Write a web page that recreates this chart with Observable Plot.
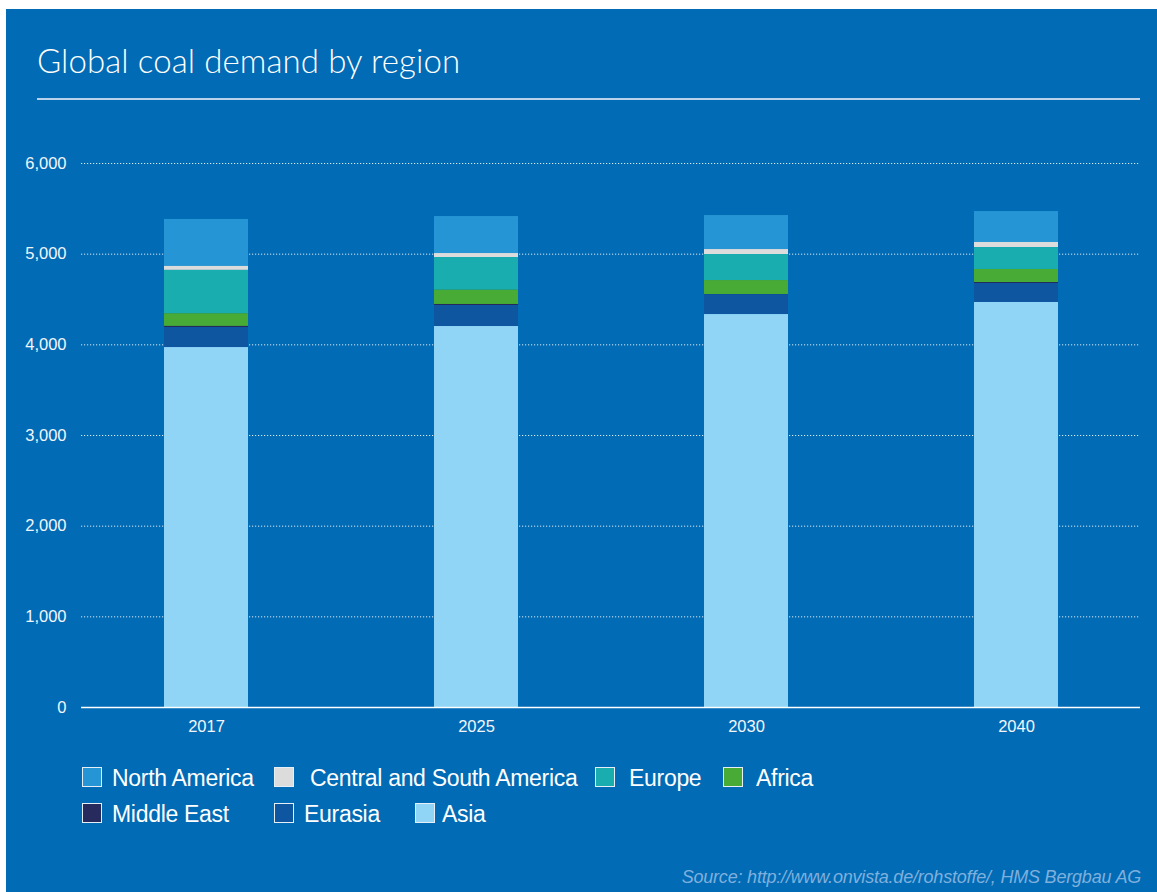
<!DOCTYPE html>
<html>
<head>
<meta charset="utf-8">
<script src="https://cdn.jsdelivr.net/npm/d3@7"></script>
<script src="https://cdn.jsdelivr.net/npm/@observablehq/plot@0.6"></script>
<style>
  html, body { margin: 0; padding: 0; background: #ffffff; width: 1157px; height: 892px; overflow: hidden; }
  #panel { position: absolute; left: 6px; top: 9px; width: 1151px; height: 883px; background: #016bb5; }
  #title { position: absolute; left: 37px; top: 40px; font-family: Lato, "Open Sans", sans-serif; font-weight: 300; font-size: 33px; letter-spacing: 0.1px; color: #ffffff; white-space: nowrap; line-height: 40px; }
  #rule { position: absolute; left: 37px; top: 98px; width: 1103px; height: 2px; background: #b9d2ec; }
  #chart { position: absolute; left: 0; top: 0; }
  .lg { position: absolute; font-family: "Liberation Sans", Arial, sans-serif; font-size: 23px; letter-spacing: -0.3px; color: #ffffff; white-space: nowrap; line-height: 24px; }
  .sw { position: absolute; width: 20px; height: 20px; border: 1.5px solid #e6eef7; box-sizing: border-box; }
  #caption { position: absolute; right: 16px; top: 867px; font-family: "Liberation Sans", Arial, sans-serif; font-style: italic; font-size: 18px; letter-spacing: -0.2px; color: #7fb0dd; white-space: nowrap; }
</style>
</head>
<body>
<div id="panel"></div>
<div id="title">Global coal demand by region</div>
<div id="rule"></div>
<div id="chart"></div>
<div id="legend"></div>
<div id="caption">Source: http://www.onvista.de/rohstoffe/, HMS Bergbau AG</div>
<script>
// ---- data ----
const years = ["2017", "2025", "2030", "2040"];
const northAmerica        = [518, 408, 375, 341];
const centralSouthAmerica = [44, 44, 55, 56];
const europe              = [478, 360, 287, 242];
const africa              = [140, 158, 154, 144];
const middleEast          = [12, 11, 5, 11];
const eurasia             = [221, 232, 216, 209];
const asia                = [3970, 4202, 4334, 4467];
const regions = ["North America", "Central and South America", "Europe", "Africa", "Middle East", "Eurasia", "Asia"];
const regionColors = ["#2595d5", "#dcdcdc", "#19adb0", "#47ab35", "#262a5c", "#0f56a0", "#90d4f6"];
const yTicks = [0, 1000, 2000, 3000, 4000, 5000, 6000];

const seriesValues = [northAmerica, centralSouthAmerica, europe, africa, middleEast, eurasia, asia];
const rows = [];
regions.forEach((r, k) => years.forEach((yr, i) => rows.push({year: yr, region: r, value: seriesValues[k][i]})));
const stackOrder = regions.slice().reverse();
const fmt = d3.format(",");

const chart = Plot.plot({
  width: 1157,
  height: 750,
  marginLeft: 81,
  marginRight: 17,
  marginTop: 163,
  marginBottom: 43,
  style: {background: "transparent", color: "#ffffff", fontFamily: "'Liberation Sans', Arial, sans-serif", fontSize: "16.5px", overflow: "visible"},
  x: {domain: years, paddingInner: 0.689, paddingOuter: 0.3055, label: null},
  y: {domain: [0, 6000], label: null},
  color: {domain: regions, range: regionColors},
  marks: [
    Plot.ruleY(yTicks.filter(d => d > 0), {stroke: "#ffffff", strokeOpacity: 0.85, strokeWidth: 1, strokeDasharray: "1.2,1.8"}),
    Plot.barY(rows, {x: "year", y: "value", fill: "region", order: stackOrder}),
    Plot.ruleY([0], {stroke: "#ffffff", strokeWidth: 1.6}),
    Plot.axisX({tickSize: 0, tickPadding: 13, fontSize: 16.5, label: null, fill: "#f2f6fb"}),
    Plot.axisY({ticks: yTicks, tickFormat: fmt, tickSize: 0, tickPadding: 15, fontSize: 16.5, label: null, fill: "#f2f6fb"})
  ]
});
document.getElementById("chart").appendChild(chart);

// ---- legend (HTML) ----
const legendPos = [
  {sx: 82, tx: 112, y: 767},
  {sx: 274, tx: 310, y: 767},
  {sx: 595, tx: 629, y: 767},
  {sx: 723, tx: 756, y: 767},
  {sx: 82, tx: 112, y: 803},
  {sx: 274, tx: 304, y: 803},
  {sx: 415, tx: 442, y: 803}
];
const legend = document.getElementById("legend");
regions.forEach((r, i) => {
  const p = legendPos[i];
  const sw = document.createElement("div");
  sw.className = "sw";
  sw.style.left = p.sx + "px";
  sw.style.top = p.y + "px";
  sw.style.background = regionColors[i];
  legend.appendChild(sw);
  const t = document.createElement("div");
  t.className = "lg";
  t.style.left = p.tx + "px";
  t.style.top = (p.y - 1) + "px";
  t.textContent = r;
  legend.appendChild(t);
});
</script>
</body>
</html>
